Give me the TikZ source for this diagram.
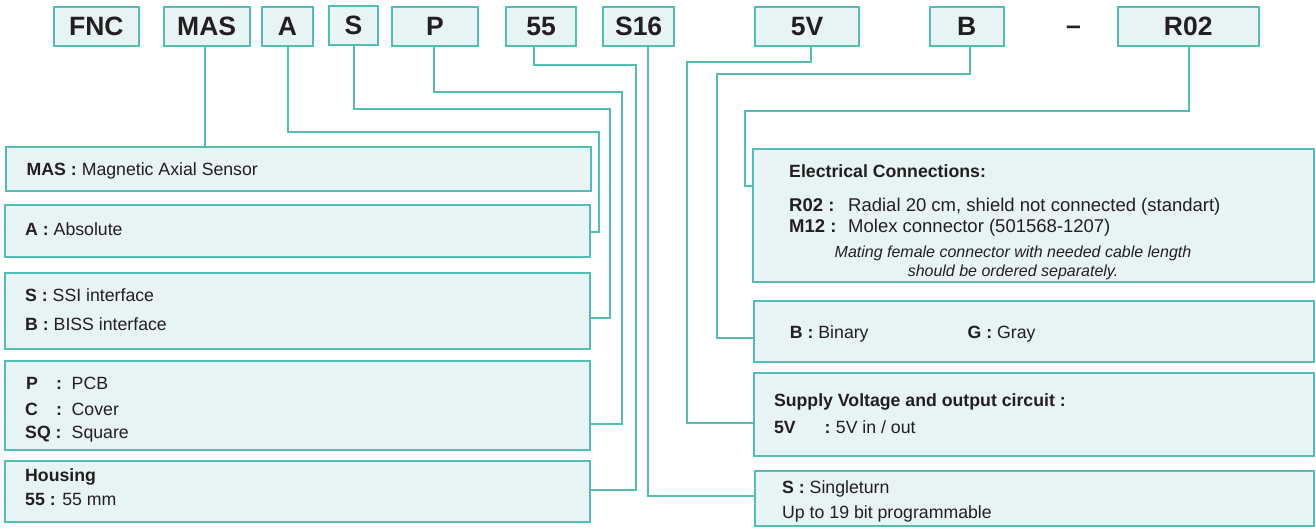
\documentclass[tikz,border=0pt]{standalone}
\usepackage{fontspec}
\setmainfont{Liberation Sans}
\definecolor{edge}{RGB}{80,190,180}
\definecolor{pale}{RGB}{232,243,244}
\definecolor{ink}{RGB}{35,31,32}
\begin{document}
\begin{tikzpicture}[x=1pt,y=-1pt,
  codebox/.style={draw=edge,fill=pale,line width=2pt,minimum height=38.4pt,inner sep=0pt,
    font=\fontsize{26.5}{30}\selectfont\bfseries,text=ink},
  descbox/.style={draw=edge,fill=pale,line width=2pt,inner sep=0pt},
  conn/.style={draw=edge,line width=2pt},
  txt/.style={anchor=base west,inner sep=0pt,font=\fontsize{17.7}{21}\selectfont,text=ink},
  bigtxt/.style={anchor=base west,inner sep=0pt,font=\fontsize{18.5}{22}\selectfont,text=ink},
  note/.style={anchor=base,inner sep=0pt,font=\fontsize{16}{19}\selectfont\itshape,text=ink}]
\useasboundingbox (0,0) rectangle (1316,528);

% corner coordinates of connectors
\coordinate (kA) at (599,131.7);
\coordinate (kS) at (609.5,108.7);
\coordinate (kP) at (622,92.3);
\coordinate (k55) at (636,65.3);
\coordinate (k5V) at (687,62.3);
\coordinate (kB) at (717,73.7);
\coordinate (kR) at (745,110.7);

% code boxes
\node[codebox,minimum width=85.8pt] (cFNC) at (96.4,26.5) {FNC};
\node[codebox,minimum width=85.9pt] (cMAS) at (206.65,26.5) {MAS};
\node[codebox,minimum width=50.7pt] (cA) at (287.35,26.5) {A};
\node[codebox,minimum width=49.7pt] (cS) at (353.55,25.5) {S};
\node[codebox,minimum width=86pt] (cP) at (435,26.5) {P};
\node[codebox,minimum width=70pt] (c55) at (541,26.5) {55};
\node[codebox,minimum width=70.7pt] (cS16) at (638.65,26.5) {S16};
\node[codebox,minimum width=104pt] (c5V) at (807,26.5) {5V};
\node[codebox,minimum width=74.5pt] (cB) at (966.75,26.5) {B};
\node[anchor=base,inner sep=0pt,font=\fontsize{26.5}{30}\selectfont\bfseries,text=ink] (dash) at (1073.5,34.5) {–};
\node[codebox,minimum width=141pt] (cR02) at (1188.2,26.5) {R02};

% description boxes
\node[descbox,minimum width=584.5pt,minimum height=44.3pt] (dMAS) at (298.25,168.85) {};
\node[descbox,minimum width=585pt,minimum height=52.3pt] (dA) at (297.5,230.85) {};
\node[descbox,minimum width=585pt,minimum height=75.7pt] (dS) at (297.5,311.15) {};
\node[descbox,minimum width=585pt,minimum height=89.3pt] (dP) at (297.5,405.35) {};
\node[descbox,minimum width=585pt,minimum height=61pt] (dH) at (297.5,491.2) {};
\node[descbox,minimum width=561pt,minimum height=132.4pt] (dE) at (1033.5,215.5) {};
\node[descbox,minimum width=560pt,minimum height=61.3pt] (dB) at (1034,331.35) {};
\node[descbox,minimum width=560pt,minimum height=83.8pt] (dV) at (1034,414.4) {};
\node[descbox,minimum width=559.5pt,minimum height=55.6pt] (dS16) at (1034.25,498.5) {};

% connectors
\draw[conn] ([xshift=-1.6pt]cMAS.south) -- ([xshift=-1.6pt]cMAS.south |- dMAS.north);
\draw[conn] ([xshift=0.6pt]cA.south) |- (kA) |- ([yshift=-0.8pt]dA.east);
\draw[conn] (cS.south) |- (kS) |- ([yshift=-6.5pt]dS.east);
\draw[conn] ([xshift=-1.5pt]cP.south) |- (kP) |- ([yshift=-19pt]dP.east);
\draw[conn] ([xshift=-7pt]c55.south) |- (k55) |- ([yshift=1.2pt]dH.east);
\draw[conn] ([xshift=8.85pt]cS16.south) |- ([yshift=2.5pt]dS16.west);
\draw[conn] ([xshift=4pt]c5V.south) |- (k5V) |- ([yshift=-8.4pt]dV.west);
\draw[conn] ([xshift=3.2pt]cB.south) |- (kB) |- ([yshift=-6.8pt]dB.west);
\draw[conn] ([xshift=0.8pt]cR02.south) |- (kR) |- ([yshift=29.5pt]dE.west);

% texts left
\node[txt] (tMAS) at (26.5,175.3) {\textbf{MAS :} Magnetic Axial Sensor};
\node[txt] (tA) at (25,235.3) {\textbf{A :} Absolute};
\node[txt] (tS) at (25,301.8) {\textbf{S :} SSI interface};
\node[txt] (tB) at (25,330.3) {\textbf{B :} BISS interface};
\node[txt] (tP) at (26,389.8) {\makebox[30pt][l]{\textbf{P}}\makebox[15.5pt][l]{\textbf{:}}PCB};
\node[txt] (tC) at (25,415.8) {\makebox[31pt][l]{\textbf{C}}\makebox[15.5pt][l]{\textbf{:}}Cover};
\node[txt] (tSQ) at (25,438.3) {\makebox[46.5pt][l]{\textbf{SQ :}}Square};
\node[txt] (tHou) at (25,481.8) {\textbf{Housing}};
\node[txt] (t55) at (25,505.8) {\textbf{55 :} 55 mm};

% texts right
\node[txt] (tEl) at (789,177.3) {\textbf{Electrical Connections:}};
\node[bigtxt] (tR02) at (789,211) {\makebox[59pt][l]{\textbf{R02 :}}Radial 20 cm, shield not connected (standart)};
\node[bigtxt] (tM12) at (789,232.7) {\makebox[59pt][l]{\textbf{M12 :}}Molex connector (501568-1207)};
\node[note] (tN1) at (1013,257.3) {Mating female connector with needed cable length};
\node[note] (tN2) at (1013,276.8) {should be ordered separately.};
\node[txt] (tBin) at (789.7,338.3) {\textbf{B :} Binary};
\node[txt] (tGr) at (967.5,338.3) {\textbf{G :} Gray};
\node[txt] (tSup) at (773.8,406) {\textbf{Supply Voltage and output circuit :}};
\node[txt] (t5V) at (773.8,433.8) {\makebox[50.6pt][l]{\textbf{5V}}\makebox[11.3pt][l]{\textbf{:}}5V in / out};
\node[txt] (tSt) at (782,493.3) {\textbf{S :} Singleturn};
\node[txt] (tUp) at (782,518.8) {Up to 19 bit programmable};
\end{tikzpicture}
\end{document}
